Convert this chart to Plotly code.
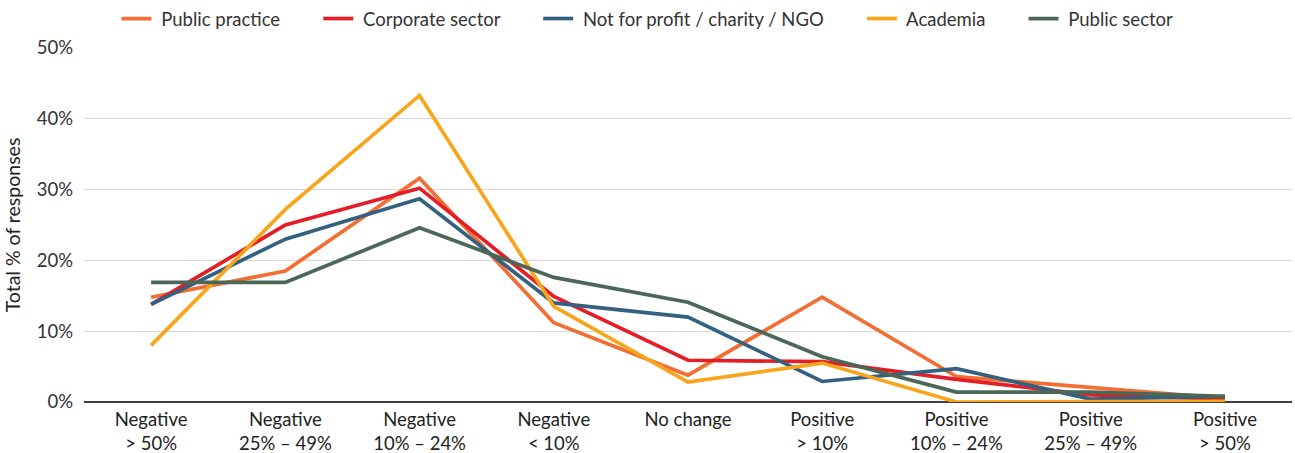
import plotly.graph_objects as go

# Data (percent of responses)
categories = [
    "Negative<br>> 50%", "Negative<br>25% – 49%", "Negative<br>10% – 24%",
    "Negative<br>< 10%", "No change<br> ", "Positive<br>> 10%",
    "Positive<br>10% – 24%", "Positive<br>25% – 49%", "Positive<br>> 50%",
]
public_practice = [14.8, 18.5, 31.6, 11.2, 3.8, 14.8, 3.6, 2.0, 0.5]
corporate_sector = [13.8, 25.0, 30.2, 14.9, 5.9, 5.7, 3.2, 1.0, 0.4]
not_for_profit = [13.8, 23.0, 28.7, 14.0, 12.0, 2.9, 4.7, 0.4, 0.8]
academia = [8.0, 27.2, 43.3, 13.5, 2.8, 5.5, 0.0, 0.0, 0.1]
public_sector = [16.9, 16.9, 24.6, 17.6, 14.1, 6.4, 1.4, 1.4, 0.8]

series = [
    ("Public practice", public_practice, "#F26E32"),
    ("Corporate sector", corporate_sector, "#E51D26"),
    ("Not for profit / charity / NGO", not_for_profit, "#346180"),
    ("Academia", academia, "#F9A51B"),
    ("Public sector", public_sector, "#4B6757"),
]

# pad legend labels with non-breaking spaces to spread the entries out like the original
nb = "\u00a0"

fig = go.Figure()
for i, (name, vals, col) in enumerate(series):
    label = nb + name + (nb * 7 if i < len(series) - 1 else "")
    fig.add_trace(go.Scatter(
        x=categories, y=vals, name=label, mode="lines",
        line=dict(color=col, width=3.7),
    ))

fig.update_layout(
    width=1295, height=453,
    margin=dict(l=84, r=3, t=48, b=51, autoexpand=False),
    paper_bgcolor="white", plot_bgcolor="white",
    font=dict(family="Lato, Open Sans, sans-serif", size=16, color="#333333"),
    legend=dict(
        orientation="h", xref="container", x=0.5, xanchor="center",
        yref="container", y=1.0, yanchor="top",
        font=dict(size=18.5, color="#333333"),
        itemwidth=30, tracegroupgap=0,
    ),
    showlegend=True,
)
fig.update_xaxes(
    range=[-0.5, 8.5], automargin=False,
    showgrid=False, showline=False, zeroline=False,
    tickfont=dict(size=18.5, color="#222222"), ticks="",
    ticklabelstandoff=4,
)
fig.update_yaxes(
    range=[0, 50], dtick=10, ticksuffix="%", automargin=False,
    showgrid=True, gridcolor="#D9D9D9", gridwidth=1,
    zeroline=True, zerolinecolor="#404040", zerolinewidth=1.5,
    tickfont=dict(size=18.5, color="#333333"),
    title=dict(text="Total % of responses", font=dict(size=19.5, color="#222222"), standoff=10),
    ticklabelstandoff=10,
)

fig.write_html("out.html", config={"displayModeBar": False},
               post_script="document.body.style.margin='0px';")
